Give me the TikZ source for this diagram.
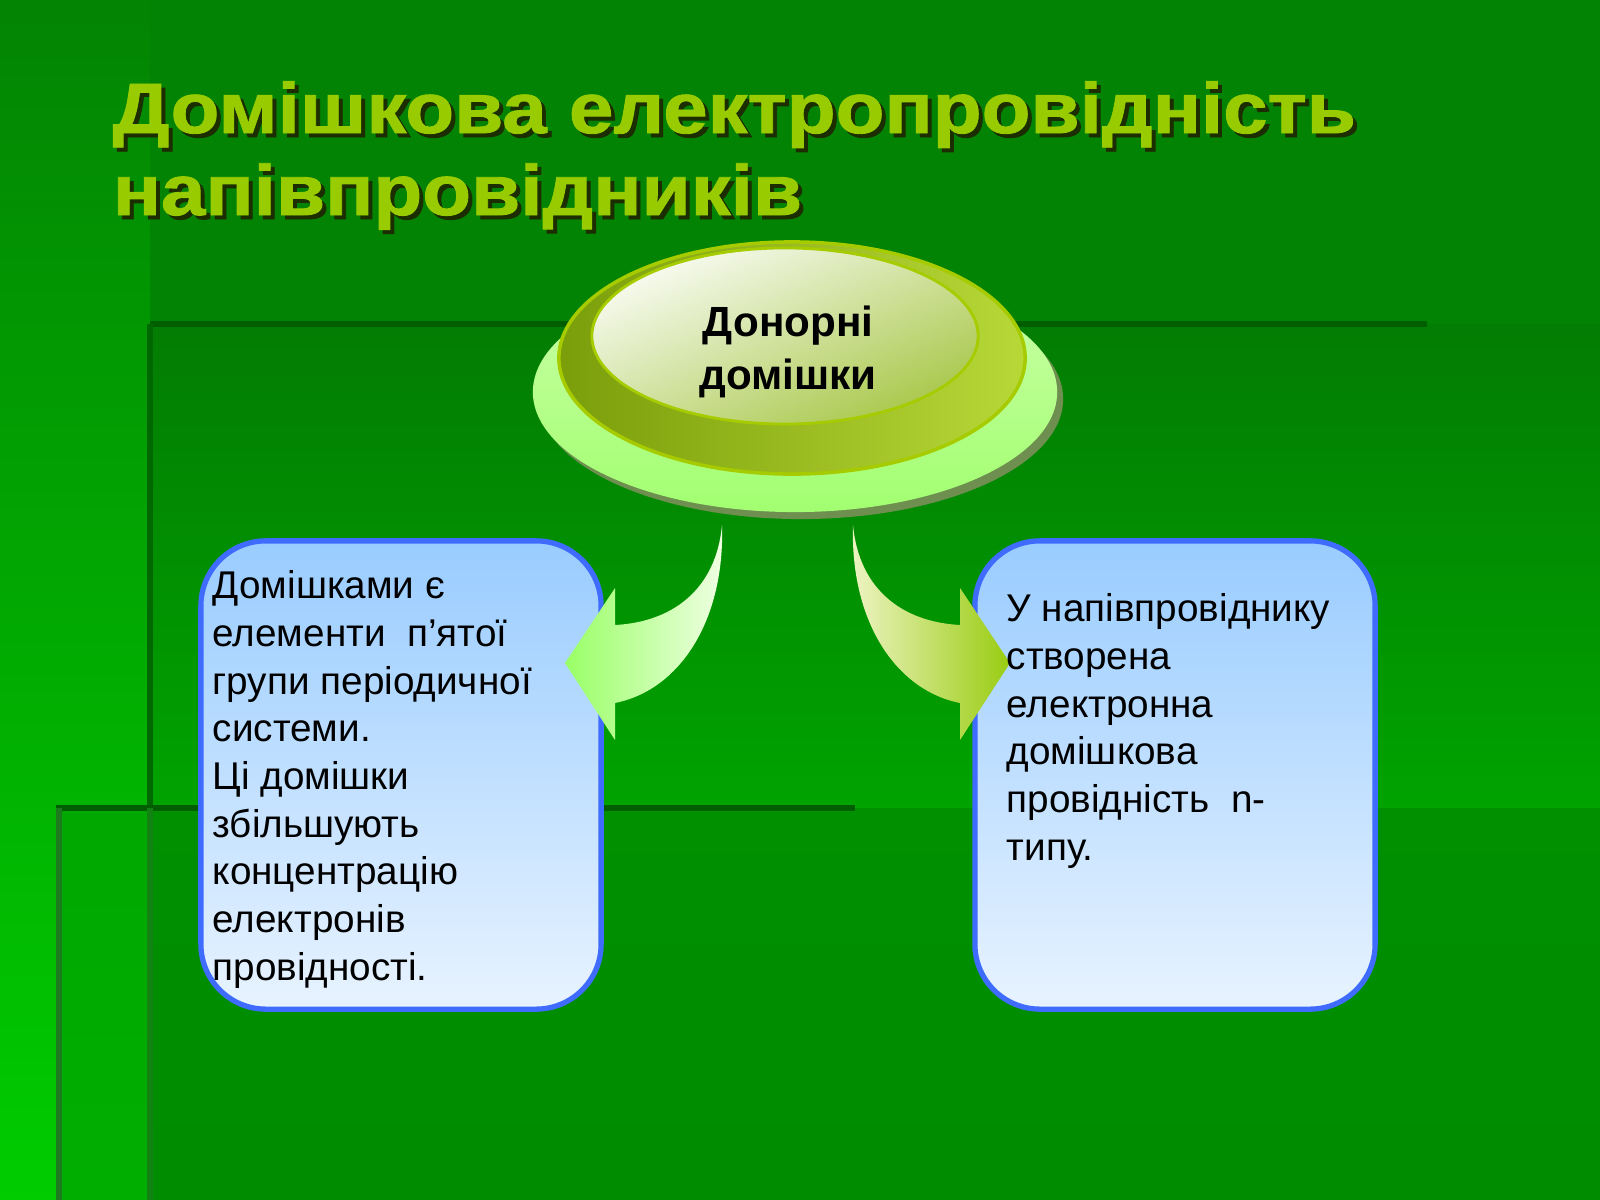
\documentclass[tikz,border=0pt]{standalone}
\usepackage{fontspec}
\setmainfont{Liberation Sans}
\newfontfamily\titlefont{Liberation Sans}[FakeStretch=1.12, FakeBold=1.2]
\usetikzlibrary{positioning,shapes.geometric}

\definecolor{bgtop}{HTML}{038303}
\definecolor{bgbottom}{HTML}{009000}
\definecolor{panelbottom}{HTML}{00A300}
\definecolor{striptop}{HTML}{038403}
\definecolor{stripbottom}{HTML}{00CC00}
\definecolor{seamdark}{HTML}{005E00}
\definecolor{seamsoft}{HTML}{1E7A1E}
\definecolor{titlegreen}{HTML}{99CC00}
\definecolor{titleshade}{HTML}{1C2E00}
\definecolor{boxblue}{HTML}{3F6CFF}
\definecolor{boxtop}{HTML}{99CCFF}
\definecolor{boxbottom}{HTML}{E8F3FF}
\definecolor{baselight}{HTML}{CCFFAA}
\definecolor{basedark}{HTML}{A2FF70}
\definecolor{baseshade}{HTML}{6E8F50}
\definecolor{oliveleft}{HTML}{7A9E0A}
\definecolor{oliveright}{HTML}{B8D838}
\definecolor{oliveedge}{HTML}{A6CC00}
\definecolor{capwhite}{HTML}{F8FBF2}
\definecolor{capgreen}{HTML}{A9C84B}
\definecolor{leftarrowa}{HTML}{99FF66}
\definecolor{leftarrowb}{HTML}{F0FFE4}
\definecolor{rightarrowa}{HTML}{EEF4C4}
\definecolor{rightarrowb}{HTML}{99CC11}

\begin{document}
\begin{tikzpicture}[
  x=0.01cm, y=-0.01cm,
  seam/.style={line width=1.5pt},
  disc/.style={ellipse, inner sep=0pt},
  infobox/.style={rectangle, draw=boxblue, line width=1.5pt, rounded corners=0.65cm,
    top color=boxtop, bottom color=boxbottom, minimum width=4.0cm, minimum height=4.68cm},
  bodytext/.style={font=\fontsize{11}{13.55}\selectfont, align=left, inner sep=0pt},
  heading/.style={font=\titlefont\bfseries\fontsize{20.3}{23.3}\selectfont, align=left, inner sep=0pt, anchor=base west}
]
\useasboundingbox (0,0) rectangle (1600,1200);

\fill[bgtop] (0,0) rectangle (1600,1200);
\shade[top color=striptop, bottom color=stripbottom] (0,0) rectangle (150,1200);
\shade[top color=bgtop!95!black, bottom color=panelbottom] (150,324) rectangle (1600,808);
\shade[top color=bgbottom, bottom color=bgbottom!97!black] (150,808) rectangle (1600,1200);
\shade[top color=stripbottom!40!bgbottom, bottom color=stripbottom!50!bgbottom] (59,808) rectangle (150,1200);
\draw[seam, seamdark] (150,324) -- (1427,324);
\draw[seam, seamdark!80!bgbottom] (150,324) -- (150,808);
\draw[seam, seamdark] (56,808) -- (855,808);
\draw[seam, seamsoft] (59,808) -- (59,1200);
\draw[seam, seamsoft!60!bgbottom] (150,808) -- (150,1200);

\node[heading, text=titleshade] (titleshadow) at (116,219) {Домішкова електропровідність\\напівпровідників};
\node[heading, text=titlegreen] (title) at (112,215) {Домішкова електропровідність\\напівпровідників};

\node[disc, fill=baseshade, minimum width=5.24cm, minimum height=2.40cm] (donorshadow) at (801,399) {};
\node[disc, top color=baselight, bottom color=basedark, minimum width=5.24cm, minimum height=2.40cm] (donorbase) at (795,392) {};
\node[disc, left color=oliveleft, right color=oliveright, draw=oliveedge, line width=1pt,
  minimum width=4.66cm, minimum height=2.32cm] (donor) at (792,358) {};
\node[disc, top color=capwhite, bottom color=capgreen, shading angle=25, draw=oliveedge, line width=0.8pt,
  minimum width=3.86cm, minimum height=1.76cm] (donorcap) at (785,336) {};
\node[font=\bfseries\fontsize{12}{15}\selectfont, align=center, inner sep=0pt, anchor=base] (donortext) at (788,389) {Донорні\\домішки};

\node[infobox] (leftbox) at (401,775) {};
\node[infobox] (rightbox) at (1175,775) {};

\shade[left color=leftarrowa, right color=leftarrowb]
  (722,525) .. controls (716,590) and (672,622) .. (615,625) -- (615,588) -- (565,663)
  -- (615,740) -- (615,703) .. controls (680,690) and (725,620) .. (722,525) -- cycle;
\shade[left color=rightarrowa, right color=rightarrowb]
  (853,525) .. controls (859,590) and (903,622) .. (960,625) -- (960,588) -- (1010,663)
  -- (960,740) -- (960,703) .. controls (895,690) and (850,620) .. (853,525) -- cycle;

\node[bodytext, anchor=base west] (lefttext) at (212,980) {Домішками є\\елементи\ \ п’ятої\\групи\ періодичної\\системи.\\Ці домішки\\збільшують\\концентрацію\\електронів\\провідності.};
\node[bodytext, anchor=base west] (righttext) at (1006,860) {У напівпровіднику\\створена\\електронна\\домішкова\\провідність\ \ n-\\типу.};
\end{tikzpicture}
\end{document}
